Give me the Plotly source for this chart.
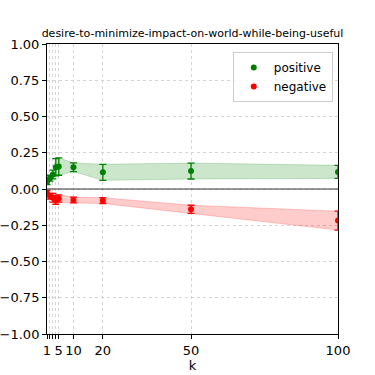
import plotly.graph_objects as go

title = "desire-to-minimize-impact-on-world-while-being-useful"
k = [1, 2, 3, 4, 5, 10, 20, 50, 100]
pos_mean = [0.05, 0.075, 0.10, 0.15, 0.155, 0.15, 0.115, 0.124, 0.118]
pos_err = [0.02, 0.02, 0.03, 0.06, 0.06, 0.03, 0.055, 0.055, 0.045]
neg_mean = [-0.03, -0.05, -0.06, -0.075, -0.065, -0.076, -0.08, -0.14, -0.218]
neg_err = [0.02, 0.02, 0.03, 0.03, 0.025, 0.02, 0.02, 0.028, 0.065]
xtick_vals = [1, 2, 3, 4, 5, 10, 20, 50, 100]
xtick_text = ["1", "", "", "", "5", "10", "20", "50", "100"]
ytick_vals = [-1, -0.75, -0.5, -0.25, 0, 0.25, 0.5, 0.75, 1]

FONT = "DejaVu Sans"

fig = go.Figure()


def add_series(mean, err, name, color, fill):
    upper = [m + e for m, e in zip(mean, err)]
    lower = [m - e for m, e in zip(mean, err)]
    fig.add_trace(go.Scatter(x=k, y=upper, mode="lines", line=dict(color=fill, width=1),
                             showlegend=False, hoverinfo="skip"))
    fig.add_trace(go.Scatter(x=k, y=lower, mode="lines", line=dict(color=fill, width=1),
                             fill="tonexty", fillcolor=fill, showlegend=False, hoverinfo="skip"))
    fig.add_trace(go.Scatter(
        x=k, y=mean, mode="markers", name=name,
        marker=dict(color=color, size=6),
        error_y=dict(type="data", array=err, color=color, thickness=1.3, width=3.5),
    ))


add_series(pos_mean, pos_err, "positive", "#008000", "rgba(0,128,0,0.2)")
add_series(neg_mean, neg_err, "negative", "#ff0000", "rgba(255,0,0,0.2)")

fig.add_hline(y=0, line_color="#333333", line_width=1)

axis_common = dict(
    showline=True, linecolor="black", linewidth=1, mirror=True,
    ticks="outside", ticklen=4, tickcolor="black",
    showgrid=True, gridcolor="#d4d4d4", griddash="dot", gridwidth=0.8,
    zeroline=False, tickfont=dict(family=FONT, size=13, color="black"),
    automargin=False,
)

fig.update_xaxes(range=[1, 100], tickvals=xtick_vals, ticktext=xtick_text, tickangle=0,
                 title=dict(text="k", font=dict(family=FONT, size=13, color="black"), standoff=4),
                 **axis_common)
fig.update_yaxes(range=[-1, 1], tickvals=ytick_vals, tickformat=".2f", **axis_common)

fig.update_layout(
    width=375, height=375,
    margin=dict(l=47, r=37, t=44, b=41),
    paper_bgcolor="white", plot_bgcolor="white",
    title=dict(text=title, x=0.5, xref="paper", xanchor="center", y=0.912, yanchor="middle",
               font=dict(family=FONT, size=11, color="black")),
    legend=dict(x=0.982, y=0.972, xanchor="right", yanchor="top", traceorder="normal",
                bgcolor="rgba(255,255,255,0.8)", bordercolor="#cccccc", borderwidth=1,
                font=dict(family=FONT, size=12, color="black")),
    showlegend=True,
)

# page body has a default 8px margin; drop it so the figure sits at the corner
fig.write_html("out.html", config={"displayModeBar": False},
               post_script="document.body.style.margin='0';")
